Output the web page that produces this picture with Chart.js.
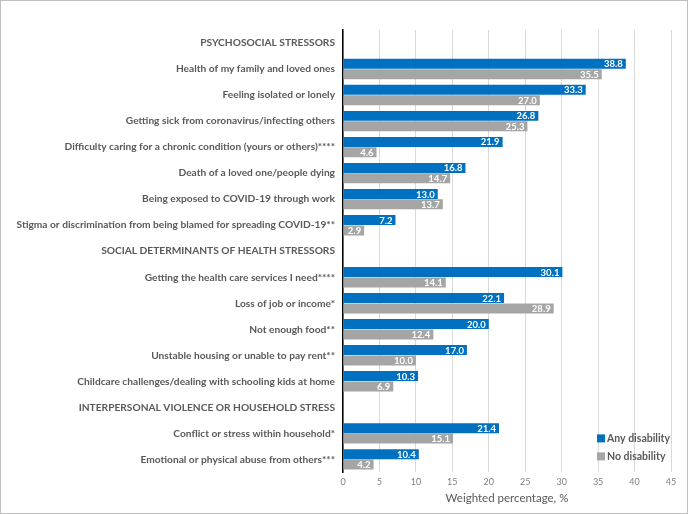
<!DOCTYPE html>
<html>
<head>
<meta charset="utf-8">
<script src="https://cdn.jsdelivr.net/npm/chart.js@4.4.1/dist/chart.umd.min.js"></script>
<style>
  html, body { margin: 0; padding: 0; background: #fff; }
  .frame {
    width: 688px; height: 514px; box-sizing: border-box;
    border: 1px solid #bfbfbf; position: relative;
  }
  canvas { display: block; }
</style>
</head>
<body>
<div class="frame">
  <canvas id="stressChart" width="686" height="512"></canvas>
</div>
<script>
// categories, top to bottom (section headers have no bars)
const categories = [
  'PSYCHOSOCIAL STRESSORS',
  'Health of my family and loved ones',
  'Feeling isolated or lonely',
  'Getting sick from coronavirus/infecting others',
  'Difficulty caring for a chronic condition (yours or others)****',
  'Death of a loved one/people dying',
  'Being exposed to COVID-19 through work',
  'Stigma or discrimination from being blamed for spreading COVID-19**',
  'SOCIAL DETERMINANTS OF HEALTH STRESSORS',
  'Getting the health care services I need****',
  'Loss of job or income*',
  'Not enough food**',
  'Unstable housing or unable to pay rent**',
  'Childcare challenges/dealing with schooling kids at home',
  'INTERPERSONAL VIOLENCE OR HOUSEHOLD STRESS',
  'Conflict or stress within household*',
  'Emotional or physical abuse from others***'
];

const anyDisability = [null, 38.8, 33.3, 26.8, 21.9, 16.8, 13.0, 7.2, null, 30.1, 22.1, 20.0, 17.0, 10.3, null, 21.4, 10.4];
const noDisability  = [null, 35.5, 27.0, 25.3, 4.6, 14.7, 13.7, 2.9, null, 14.1, 28.9, 12.4, 10.0, 6.9, null, 15.1, 4.2];

const seriesNames = ['Any disability', 'No disability'];
const xTicks = [0, 5, 10, 15, 20, 25, 30, 35, 40, 45];
const axisTitle = 'Weighted percentage, %';

const BLUE = '#0070c0';
const GREY = '#a5a5a5';
const labelFont = 'Lato';

// white value labels at the inside end of each bar
const valueLabels = {
  id: 'valueLabels',
  afterDatasetsDraw(chart) {
    const ctx = chart.ctx;
    ctx.save();
    ctx.font = 'bold 9.5px ' + labelFont;
    ctx.fillStyle = '#ffffff';
    ctx.textAlign = 'right';
    ctx.textBaseline = 'middle';
    chart.data.datasets.forEach((ds, i) => {
      const meta = chart.getDatasetMeta(i);
      meta.data.forEach((bar, j) => {
        const v = ds.data[j];
        if (v === null || v === undefined) return;
        ctx.fillText(v.toFixed(1), bar.x - 3, bar.y + 0.5);
      });
    });
    ctx.restore();
  }
};

// legend in lower right corner of plot
const cornerLegend = {
  id: 'cornerLegend',
  afterDraw(chart) {
    const { ctx, chartArea } = chart;
    ctx.save();
    ctx.font = 'bold 10.5px ' + labelFont;
    ctx.textBaseline = 'middle';
    ctx.textAlign = 'left';
    chart.data.datasets.forEach((ds, i) => {
      const x = chartArea.right - 74;
      const y = chartArea.bottom - 34 + i * 18;
      ctx.fillStyle = ds.backgroundColor;
      ctx.fillRect(x, y - 4, 8, 8);
      ctx.fillStyle = '#595959';
      ctx.fillText(ds.label, x + 10, y);
    });
    ctx.restore();
  }
};

new Chart(document.getElementById('stressChart'), {
  type: 'bar',
  data: {
    labels: categories,
    datasets: [
      { label: seriesNames[0], data: anyDisability, backgroundColor: BLUE, barPercentage: 0.96, categoryPercentage: 0.8 },
      { label: seriesNames[1], data: noDisability, backgroundColor: GREY, barPercentage: 0.96, categoryPercentage: 0.8 }
    ]
  },
  options: {
    indexAxis: 'y',
    responsive: false,
    animation: false,
    layout: { padding: { top: 29, right: 16, bottom: 8, left: 0 } },
    plugins: {
      legend: { display: false },
      tooltip: { enabled: false }
    },
    scales: {
      x: {
        min: 0,
        max: 45,
        afterBuildTicks: (s) => { s.ticks = xTicks.map(v => ({ value: v })); },
        grid: { color: '#d9d9d9', drawTicks: false },
        border: { display: false },
        ticks: { color: '#808080', font: { family: labelFont, size: 9 }, padding: 4 },
        title: { display: true, text: axisTitle, color: '#595959', font: { family: labelFont, size: 11.5 }, padding: { top: 0, bottom: 0 } }
      },
      y: {
        grid: { display: false, drawTicks: false },
        border: { display: true, color: '#000000', width: 1.5 },
        ticks: { color: '#595959', font: { family: labelFont, size: 10.2, weight: 'bold' }, padding: 8, autoSkip: false },
        afterFit: (s) => { s.width = 342; }
      }
    }
  },
  plugins: [valueLabels, cornerLegend]
});
</script>
</body>
</html>
